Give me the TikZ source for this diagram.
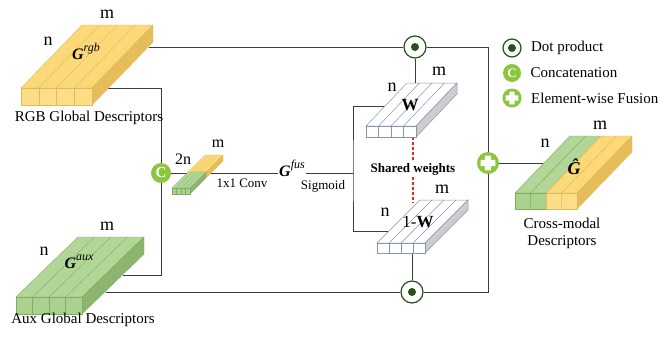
\documentclass[tikz,border=0pt]{standalone}
\usepackage{amsmath}
\usepackage{fontspec}
\setmainfont{Liberation Serif}
\usepackage{tikz}
\usetikzlibrary{
    calc,
    positioning
}

\definecolor{ylwtop}{RGB}{251,216,120}
\definecolor{ylwfront}{RGB}{253,221,135}
\definecolor{ylwside}{RGB}{230,189,88}
\definecolor{ylwline}{RGB}{226,186,92}
\definecolor{grntop}{RGB}{178,214,152}
\definecolor{grnfront}{RGB}{170,209,142}
\definecolor{grnside}{RGB}{141,181,112}
\definecolor{grnline}{RGB}{128,172,100}
\definecolor{wline}{RGB}{132,151,176}
\definecolor{wside}{RGB}{205,205,205}
\definecolor{dkgreen}{RGB}{38,80,28}
\definecolor{ltgreen}{RGB}{140,198,63}
\definecolor{linegray}{RGB}{60,60,60}
\definecolor{dashred}{RGB}{228,40,40}

\begin{document}
\begin{tikzpicture}[x=1pt,y=-1pt,
    conn/.style={draw=linegray,line width=0.9pt},
    dims/.style={font=\fontsize{18}{20}\selectfont},
    txt/.style={font=\fontsize{15}{17}\selectfont},
    smalltxt/.style={font=\fontsize{13}{15}\selectfont},
    gname/.style={font=\fontsize{16}{18}\selectfont,inner sep=1pt},
    shared/.style={draw=dashred,line width=1.2pt,dash pattern=on 3pt off 2pt},
    dotop/.style={circle,draw=dkgreen,line width=1.2pt,fill=white,minimum size=22pt,inner sep=0pt,
        path picture={\fill[dkgreen] (path picture bounding box.center) circle (4pt);}},
    catop/.style={circle,fill=ltgreen,text=white,minimum size=20pt,inner sep=0pt,
        font=\fontsize{15}{15}\selectfont\bfseries},
    fuseop/.style={circle,fill=ltgreen,minimum size=#1,inner sep=0pt,
        path picture={\fill[white]
            ($(path picture bounding box.center)+(-0.33*#1,-0.14*#1)$) rectangle ($(path picture bounding box.center)+(0.33*#1,0.14*#1)$)
            ($(path picture bounding box.center)+(-0.14*#1,-0.33*#1)$) rectangle ($(path picture bounding box.center)+(0.14*#1,0.33*#1)$);}},
    fuseop/.default=22pt
]
\useasboundingbox (0,0) rectangle (670,341);

%====================================================
% Operators
%====================================================

\node[dotop] (dotT) at (415,47) {};
\node[dotop] (dotB) at (412,292) {};
\node[catop] (cat) at (161,173) {C};
\node[fuseop] (fuse) at (488,163) {};

\coordinate (rgbA) at (149,47);
\coordinate (rgbB) at (108,88);
\coordinate (auxA) at (123,275);
\coordinate (auxB) at (106,292);
\coordinate (wTop) at (415,83);
\coordinate (wIn) at (385,106);
\coordinate (wBot) at (413,137);
\coordinate (nwTop) at (413,203);
\coordinate (nwIn) at (389,231);
\coordinate (nwBot) at (412,253);
\coordinate (jn) at (353,173);
\coordinate (crIn) at (543,163);

\node[gname] (gfus) at (292,168)
    {\textbf{\textit{G}}\raisebox{0.5em}{\fontsize{12}{12}\selectfont\textit{fus}}};
\node[font=\fontsize{13}{15}\selectfont\bfseries,inner sep=2pt] (shw) at (413,169) {Shared weights};

%====================================================
% Connectors
%====================================================

\draw[conn] (rgbA) -- (dotT);
\draw[conn] (dotT) -| (fuse);
\draw[conn] (auxB) -- (dotB);
\draw[conn] (dotB) -| (fuse);
\draw[conn] (rgbB) -| (cat);
\draw[conn] (auxA) -| (cat);
\draw[conn] (cat) -- (cat -| gfus.west);
\draw[conn] (gfus.east |- jn) -- (jn);
\draw[conn] (wIn) -| (jn) |- (nwIn);
\draw[conn] (dotT) -- (wTop);
\draw[conn] (nwBot) -- (dotB);
\draw[conn] (fuse) -- (crIn);
\draw[shared] (wBot) -- (shw.north);
\draw[shared] (shw.south) -- (nwTop);

%====================================================
% RGB global descriptors
%====================================================

\coordinate (R) at (21,88);
\filldraw[fill=ylwtop,draw=ylwline,line width=0.4pt] (R) -- ++(71,0) -- ++(61,-63) -- ++(-71,0) -- cycle;
\filldraw[fill=ylwside,draw=ylwline,line width=0.4pt] ($(R)+(71,0)$) -- ++(61,-63) -- ++(0,17) -- ++(-61,63) -- cycle;
\filldraw[fill=ylwfront,draw=ylwline,line width=0.4pt] (R) rectangle ++(71,17);
\foreach \i in {1,2,3}{
    \draw[ylwline,line width=0.5pt] ($(R)+(\i*71/4,0)$) -- ++(0,17);
    \draw[ylwline,line width=0.4pt] ($(R)+(\i*71/4,0)$) -- ++(61,-63);
}

\node[dims] at (107,14) {m};
\node[dims] at (48,41) {n};
\node[gname] at (86,51) {\textbf{\textit{G}}\raisebox{0.5em}{\fontsize{12}{12}\selectfont\textit{rgb}}};
\node[txt] at (89,118) {RGB Global Descriptors};

%====================================================
% Aux global descriptors
%====================================================

\coordinate (A) at (16,297);
\filldraw[fill=grntop,draw=grnline,line width=0.4pt] (A) -- ++(66,0) -- ++(62,-60) -- ++(-66,0) -- cycle;
\filldraw[fill=grnside,draw=grnline,line width=0.4pt] ($(A)+(66,0)$) -- ++(62,-60) -- ++(0,17) -- ++(-62,60) -- cycle;
\filldraw[fill=grnfront,draw=grnline,line width=0.4pt] (A) rectangle ++(66,17);
\foreach \i in {1,2,3}{
    \draw[grnline,line width=0.5pt] ($(A)+(\i*66/4,0)$) -- ++(0,17);
    \draw[grnline,line width=0.4pt] ($(A)+(\i*66/4,0)$) -- ++(62,-60);
}

\node[dims] at (107,226) {m};
\node[dims] at (44,251) {n};
\node[gname] at (79,262) {\textbf{\textit{G}}\raisebox{0.5em}{\fontsize{12}{12}\selectfont\textit{aux}}};
\node[txt] at (83,320) {Aux Global Descriptors};

%====================================================
% Concatenated block and 1x1 conv
%====================================================

\coordinate (M) at (172,188);
\filldraw[fill=grntop,draw=grnline,line width=0.3pt] (M) -- ++(18,0) -- ++(16.5,-16.5) -- ++(-18,0) -- cycle;
\filldraw[fill=ylwtop,draw=ylwline,line width=0.3pt] ($(M)+(16.5,-16.5)$) -- ++(18,0) -- ++(16.5,-16.5) -- ++(-18,0) -- cycle;
\filldraw[fill=grnside,draw=grnline,line width=0.3pt] ($(M)+(18,0)$) -- ++(16.5,-16.5) -- ++(0,6) -- ++(-16.5,16.5) -- cycle;
\filldraw[fill=ylwside,draw=ylwline,line width=0.3pt] ($(M)+(34.5,-16.5)$) -- ++(16.5,-16.5) -- ++(0,6) -- ++(-16.5,16.5) -- cycle;
\filldraw[fill=grnfront,draw=grnline,line width=0.3pt] (M) rectangle ++(18,6);
\foreach \i in {1,2,3}{
    \draw[grnline,line width=0.3pt] ($(M)+(\i*18/4,0)$) -- ++(0,6);
    \draw[grnline,line width=0.3pt] ($(M)+(\i*18/4,0)$) -- ++(16.5,-16.5);
    \draw[ylwline,line width=0.3pt] ($(M)+(\i*18/4+16.5,-16.5)$) -- ++(16.5,-16.5);
}

\node[font=\fontsize{16}{18}\selectfont] at (183,159) {2n};
\node[font=\fontsize{16}{18}\selectfont] at (218,144) {m};
\node[smalltxt] at (242,183) {1x1 Conv};
\node[smalltxt] at (323,186) {Sigmoid};

%====================================================
% Weight blocks W and 1-W
%====================================================

\coordinate (W) at (366,126);
\filldraw[fill=white,draw=wline,line width=0.5pt] (W) -- ++(50,0) -- ++(41,-43) -- ++(-50,0) -- cycle;
\filldraw[fill=wside,draw=wline,line width=0.5pt] ($(W)+(50,0)$) -- ++(41,-43) -- ++(0,11) -- ++(-41,43) -- cycle;
\filldraw[fill=white,draw=wline,line width=0.5pt] (W) rectangle ++(50,11);
\foreach \i in {1,2,3}{
    \draw[wline,line width=0.5pt] ($(W)+(\i*50/4,0)$) -- ++(0,11);
    \draw[wline,line width=0.5pt] ($(W)+(\i*50/4,0)$) -- ++(41,-43);
}

\node[dims] at (392,87) {n};
\node[dims] at (439,71) {m};
\node[font=\fontsize{17}{19}\selectfont\bfseries] at (410,105) {W};

\coordinate (N) at (377,243);
\filldraw[fill=white,draw=wline,line width=0.5pt] (N) -- ++(48,0) -- ++(43,-43) -- ++(-48,0) -- cycle;
\filldraw[fill=wside,draw=wline,line width=0.5pt] ($(N)+(48,0)$) -- ++(43,-43) -- ++(0,10) -- ++(-43,43) -- cycle;
\filldraw[fill=white,draw=wline,line width=0.5pt] (N) rectangle ++(48,10);
\foreach \i in {1,2,3}{
    \draw[wline,line width=0.5pt] ($(N)+(\i*48/4,0)$) -- ++(0,10);
    \draw[wline,line width=0.5pt] ($(N)+(\i*48/4,0)$) -- ++(43,-43);
}

\node[dims] at (385,212) {n};
\node[dims] at (442,189) {m};
\node[font=\fontsize{17}{19}\selectfont] at (418,222) {1-\textbf{W}};

%====================================================
% Cross-modal descriptors
%====================================================

\coordinate (X) at (515,193);
\filldraw[fill=grntop,draw=grnline,line width=0.4pt] (X) -- ++(31,0) -- ++(55,-57) -- ++(-31,0) -- cycle;
\filldraw[fill=ylwtop,draw=ylwline,line width=0.4pt] ($(X)+(31,0)$) -- ++(31,0) -- ++(55,-57) -- ++(-31,0) -- cycle;
\filldraw[fill=ylwside,draw=ylwline,line width=0.4pt] ($(X)+(62,0)$) -- ++(55,-57) -- ++(0,16) -- ++(-55,57) -- cycle;
\filldraw[fill=grnfront,draw=grnline,line width=0.4pt] (X) rectangle ++(31,16);
\filldraw[fill=ylwfront,draw=ylwline,line width=0.4pt] ($(X)+(31,0)$) rectangle ++(31,16);
\draw[grnline,line width=0.5pt] ($(X)+(15.5,0)$) -- ++(0,16) ($(X)+(15.5,0)$) -- ++(55,-57);
\draw[ylwline,line width=0.5pt] ($(X)+(46.5,0)$) -- ++(0,16) ($(X)+(46.5,0)$) -- ++(55,-57);

\node[dims] at (545,143) {n};
\node[dims] at (600,125) {m};
\node[font=\fontsize{18}{20}\selectfont,inner sep=0pt] at (574,167) {\textbf{\textit{Ĝ}}};
\node[txt,align=center] at (562,233) {Cross-modal\\Descriptors};

%====================================================
% Legend
%====================================================

\node[dotop,minimum size=18pt] (lgdot) at (512,48) {};
\node[catop,minimum size=18pt,font=\fontsize{13}{13}\selectfont\bfseries] (lgcat) at (512,73) {C};
\node[fuseop=19pt] (lgfuse) at (512,98) {};
\node[txt,right=6pt of lgdot] {Dot product};
\node[txt,right=6pt of lgcat] {Concatenation};
\node[txt,right=6pt of lgfuse] {Element-wise Fusion};

\end{tikzpicture}
\end{document}
